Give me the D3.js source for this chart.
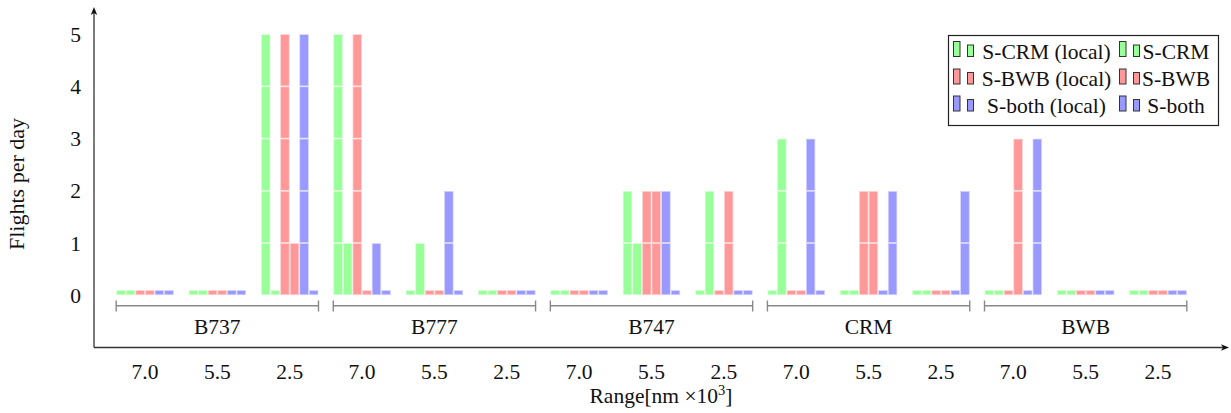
<!DOCTYPE html>
<html>
<head>
<meta charset="utf-8">
<script src="https://cdn.jsdelivr.net/npm/d3@7/dist/d3.min.js"></script>
<style>
  html, body { margin: 0; padding: 0; background: #fff; }
  svg text { font-family: "Liberation Serif", "DejaVu Serif", serif; fill: #111; }
</style>
</head>
<body>
<svg id="chart" width="1231" height="413"></svg>
<script>
// ---- data ----
const aircraft = ["B737", "B777", "B747", "CRM", "BWB"];
const ranges = ["7.0", "5.5", "2.5"];
const seriesNames = ["S-CRM (local)", "S-CRM", "S-BWB (local)", "S-BWB", "S-both (local)", "S-both"];
const yTicks = [0, 1, 2, 3, 4, 5];
// values per series, ordered aircraft-major then range (7.0, 5.5, 2.5)
const sCrmLocal  = [0,0,5, 5,0,0, 0,2,0, 0,0,0, 0,0,0];
const sCrm       = [0,0,0, 1,1,0, 0,1,2, 3,0,0, 0,0,0];
const sBwbLocal  = [0,0,5, 5,0,0, 0,2,0, 0,2,0, 0,0,0];
const sBwb       = [0,0,1, 0,0,0, 0,2,2, 0,2,0, 3,0,0];
const sBothLocal = [0,0,5, 1,2,0, 0,2,0, 3,0,0, 0,0,0];
const sBoth      = [0,0,0, 0,0,0, 0,0,0, 0,2,2, 3,0,0];
const seriesValues = [sCrmLocal, sCrm, sBwbLocal, sBwb, sBothLocal, sBoth];

// ---- styles ----
const fills   = ["#99ff99", "#99ff99", "#ff9999", "#ff9999", "#9999ff", "#9999ff"];
const strokes = ["#d6ffd6", "#d6ffd6", "#ffd6d6", "#ffd6d6", "#d6d6ff", "#d6d6ff"];
const ZERO_STUB = 0.1;
const FS = 21.5;

const svg = d3.select("#chart");
const axisX = 94, axisYpos = 347.5;

const groupKeys = [];
aircraft.forEach(a => ranges.forEach(r => groupKeys.push(a + "|" + r)));

const x = d3.scaleBand().domain(groupKeys).range([108.8, 1194.2])
  .paddingInner(0.204).paddingOuter(0.102);
const xs = d3.scaleBand().domain(d3.range(seriesNames.length)).range([0, x.bandwidth()]);
const y = d3.scaleLinear().domain([-1, 5.5]).range([axisYpos, 8]);

// bars as unit blocks
const blocks = [];
seriesValues.forEach((vals, s) => {
  vals.forEach((v, g) => {
    if (v === 0) {
      blocks.push({ s, g, y0: 0, y1: ZERO_STUB });
    } else {
      for (let k = 0; k < v; k++) blocks.push({ s, g, y0: k, y1: k + 1 });
    }
  });
});

svg.append("g").selectAll("rect").data(blocks).join("rect")
  .attr("x", d => x(groupKeys[d.g]) + xs(d.s) + 0.5)
  .attr("width", xs.bandwidth() - 1)
  .attr("y", d => y(d.y1) + 0.5)
  .attr("height", d => y(d.y0) - y(d.y1) - 1)
  .attr("fill", d => fills[d.s])
  .attr("stroke", d => strokes[d.s])
  .attr("stroke-width", 0.7);

// group brackets
const bg = svg.append("g");
aircraft.forEach((a, i) => {
  const left = x(a + "|" + ranges[0]);
  const right = x(a + "|" + ranges[ranges.length - 1]) + x.bandwidth();
  const yl = 305.7;
  bg.append("line").attr("x1", left).attr("x2", right).attr("y1", yl).attr("y2", yl)
    .attr("stroke", "#888").attr("stroke-width", 1.4);
  [left, right].forEach(xx => bg.append("line").attr("x1", xx).attr("x2", xx)
    .attr("y1", 300.5).attr("y2", 311.5).attr("stroke", "#888").attr("stroke-width", 1.4));
  bg.append("text").attr("x", x(a + "|" + ranges[1]) + x.bandwidth() / 2).attr("y", 334)
    .attr("text-anchor", "middle").attr("font-size", FS).text(a);
});

// axes
const ax = svg.append("g");
ax.append("line").attr("x1", axisX).attr("x2", 1224).attr("y1", axisYpos).attr("y2", axisYpos)
  .attr("stroke", "#333").attr("stroke-width", 1.3);
ax.append("line").attr("x1", axisX).attr("x2", axisX).attr("y1", axisYpos).attr("y2", 12)
  .attr("stroke", "#333").attr("stroke-width", 1.3);
ax.append("path").attr("d", `M1229,${axisYpos} L1221,${axisYpos - 3.2} L1223,${axisYpos} L1221,${axisYpos + 3.2} Z`).attr("fill", "#111");
ax.append("path").attr("d", `M${axisX},7 L${axisX - 3.2},15 L${axisX},13 L${axisX + 3.2},15 Z`).attr("fill", "#111");

// y tick labels
ax.selectAll("text.yt").data(yTicks).join("text").attr("class", "yt")
  .attr("x", 81).attr("y", d => y(d)).attr("dy", "0.35em")
  .attr("text-anchor", "end").attr("font-size", FS).text(d => d);

// x tick labels
ax.selectAll("text.xt").data(groupKeys).join("text").attr("class", "xt")
  .attr("x", d => x(d) + x.bandwidth() / 2).attr("y", 379)
  .attr("text-anchor", "middle").attr("font-size", FS).text(d => d.split("|")[1]);

// axis titles
const xl = ax.append("text").attr("x", 661).attr("y", 403).attr("text-anchor", "middle").attr("font-size", FS);
xl.append("tspan").text("Range[nm \u00D710");
xl.append("tspan").attr("font-size", 14.5).attr("dy", -8).text("3");
xl.append("tspan").attr("dy", 8).text("]");

ax.append("text").attr("transform", "translate(24,184) rotate(-90)")
  .attr("text-anchor", "middle").attr("font-size", 22).text("Flights per day");

// legend
const lg = svg.append("g");
lg.append("rect").attr("x", 948.5).attr("y", 35.5).attr("width", 270).attr("height", 90)
  .attr("fill", "#fff").attr("stroke", "#222").attr("stroke-width", 1.2);
const rowsY = [57, 84.5, 111.5];
const colMarkerX = [953, 1119];
const colTextCenter = [1046.5, 1176];
seriesNames.forEach((name, i) => {
  const row = Math.floor(i / 2), col = i % 2;
  const base = rowsY[row];
  const mx = colMarkerX[col];
  lg.append("rect").attr("x", mx + 0.5).attr("y", base - 15.5).attr("width", 6.5).attr("height", 15)
    .attr("fill", fills[i]).attr("stroke", "#333").attr("stroke-width", 1);
  lg.append("rect").attr("x", mx + 14.5).attr("y", base - 12).attr("width", 6).attr("height", 11.5)
    .attr("fill", fills[i]).attr("stroke", "#333").attr("stroke-width", 1);
  lg.append("text").attr("x", colTextCenter[col]).attr("y", base + 1.5)
    .attr("text-anchor", "middle").attr("font-size", FS).text(name);
});
</script>
</body>
</html>
